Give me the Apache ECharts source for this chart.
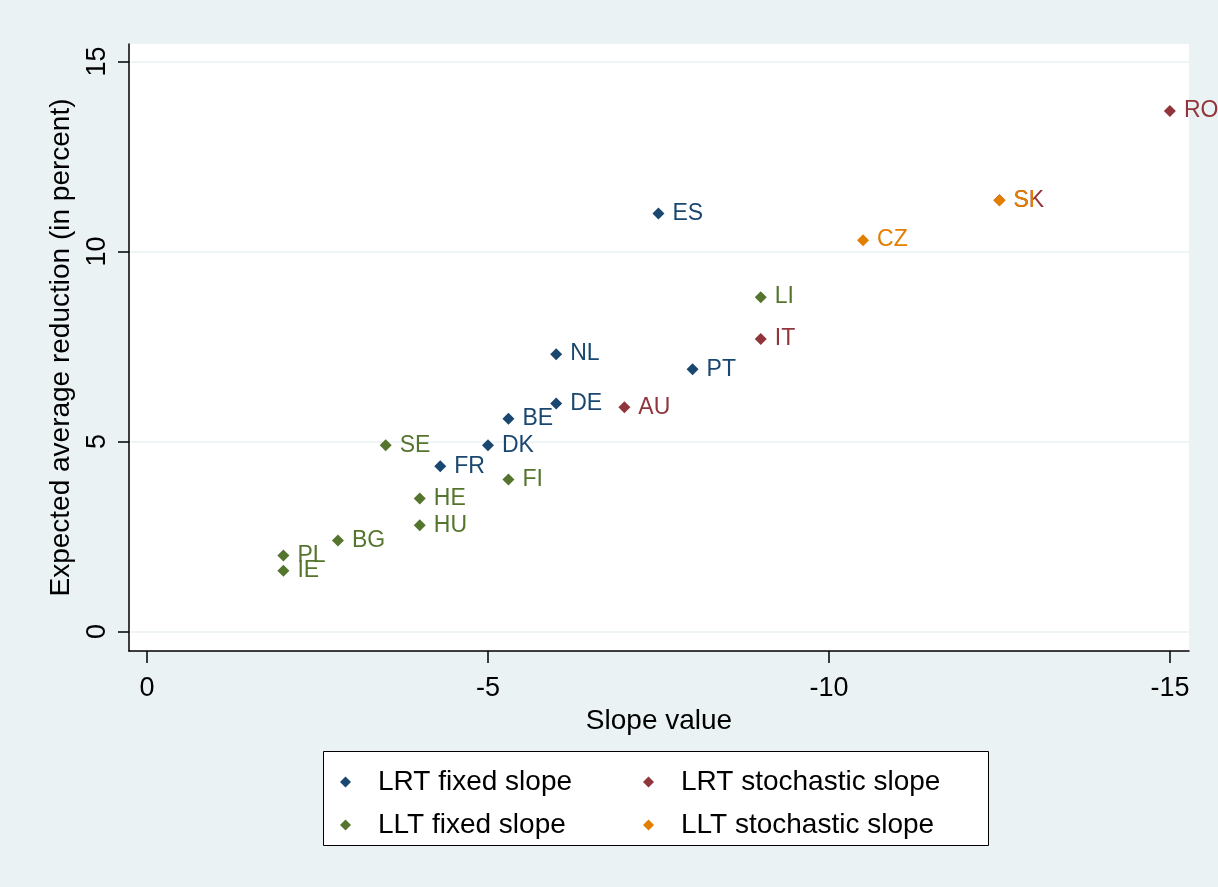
<!DOCTYPE html>
<html>
<head>
<meta charset="utf-8">
<script src="https://cdn.jsdelivr.net/npm/echarts@6/dist/echarts.min.js"></script>
<style>
html,body{margin:0;padding:0;background:#eaf2f3;}
#chart{width:1218px;height:887px;}
</style>
</head>
<body>
<div id="chart"></div>
<script>
// ---- data ----
const seriesNames = ['LRT fixed slope', 'LRT stochastic slope', 'LLT fixed slope', 'LLT stochastic slope'];

const lrtFixedCountries = ['ES', 'NL', 'PT', 'DE', 'BE', 'DK', 'FR'];
const lrtFixedSlope     = [-7.5, -6, -8, -6, -5.3, -5, -4.3];
const lrtFixedReduction = [11.0, 7.3, 6.9, 6.0, 5.6, 4.9, 4.35];

const lrtStochCountries = ['RO', 'SK', 'IT', 'AU'];
const lrtStochSlope     = [-15, -12.5, -9, -7];
const lrtStochReduction = [13.7, 11.35, 7.7, 5.9];

const lltFixedCountries = ['LI', 'SE', 'FI', 'HE', 'HU', 'BG', 'PL', 'IE'];
const lltFixedSlope     = [-9, -3.5, -5.3, -4, -4, -2.8, -2, -2];
const lltFixedReduction = [8.8, 4.9, 4.0, 3.5, 2.8, 2.4, 2.0, 1.6];

const lltStochCountries = ['SI', 'CZ'];
const lltStochSlope     = [-12.5, -10.5];
const lltStochReduction = [11.35, 10.3];

const xTicks = [0, -5, -10, -15];
const yTicks = [0, 5, 10, 15];

// ---- styles ----
const colors = ['#1a476f', '#90353b', '#55752f', '#e37e00'];
const FONT = '"Liberation Sans", Arial, sans-serif';
const diamond = 'path://M0,-1L1,0L0,1L-1,0Z';

function pts(names, xs, ys) {
  return names.map((n, i) => ({ name: n, value: [xs[i], ys[i]] }));
}

const groups = [
  pts(lrtFixedCountries, lrtFixedSlope, lrtFixedReduction),
  pts(lrtStochCountries, lrtStochSlope, lrtStochReduction),
  pts(lltFixedCountries, lltFixedSlope, lltFixedReduction),
  pts(lltStochCountries, lltStochSlope, lltStochReduction)
];

const chart = echarts.init(document.getElementById('chart'), null, { renderer: 'canvas' });

const legendBase = {
  orient: 'vertical',
  icon: diamond,
  itemWidth: 11,
  itemHeight: 11,
  itemGap: 13,
  top: 762,
  selectedMode: false,
  z: 10,
  itemStyle: { opacity: 1 },
  textStyle: { fontFamily: FONT, fontSize: 28, color: '#000', lineHeight: 30, padding: [0, 0, 0, 22] }
};

chart.setOption({
  backgroundColor: '#eaf2f3',
  animation: false,
  color: colors,
  grid: {
    left: 129, top: 44, right: 29, bottom: 236,
    show: true, backgroundColor: '#ffffff', borderWidth: 0
  },
  graphic: [{
    type: 'rect', z: 1,
    shape: { x: 323.5, y: 751.5, width: 665, height: 94 },
    style: { fill: '#ffffff', stroke: '#000000', lineWidth: 1 }
  }],
  legend: [
    Object.assign({}, legendBase, { left: 335, data: [seriesNames[0], seriesNames[2]] }),
    Object.assign({}, legendBase, { left: 638, data: [seriesNames[1], seriesNames[3]] })
  ],
  xAxis: {
    type: 'value',
    inverse: true,
    min: -15.28,
    max: 0.264,
    name: 'Slope value',
    nameLocation: 'middle',
    nameGap: 51,
    nameTextStyle: { fontFamily: FONT, fontSize: 28, color: '#000' },
    axisLine: { show: true, onZero: false, lineStyle: { color: '#000', width: 1.5 } },
    axisTick: { show: true, length: 12, customValues: xTicks, lineStyle: { color: '#000', width: 1.5 } },
    axisLabel: { customValues: xTicks, margin: 24, fontFamily: FONT, fontSize: 27, color: '#000' },
    splitLine: { show: false }
  },
  yAxis: {
    type: 'value',
    min: -0.51,
    max: 15.46,
    name: 'Expected average reduction (in percent)',
    nameLocation: 'middle',
    nameGap: 54,
    nameTextStyle: { fontFamily: FONT, fontSize: 28, color: '#000' },
    axisLine: { show: true, onZero: false, lineStyle: { color: '#000', width: 1.5 } },
    axisTick: { show: true, length: 11, customValues: yTicks, lineStyle: { color: '#000', width: 1.5 } },
    axisLabel: { customValues: yTicks, rotate: 90, margin: 18, fontFamily: FONT, fontSize: 27, color: '#000' },
    splitLine: { show: true, lineStyle: { color: '#eaf2f3', width: 1.5 } }
  },
  series: groups.map((data, i) => ({
    name: seriesNames[i],
    type: 'scatter',
    symbol: diamond,
    symbolSize: 12,
    data: data,
    itemStyle: { color: colors[i], opacity: 1 },
    label: {
      show: true,
      position: 'right',
      distance: 8,
      formatter: p => p.name,
      fontFamily: FONT,
      fontSize: 23,
      color: colors[i]
    },
    emphasis: { disabled: true }
  }))
});
</script>
</body>
</html>
